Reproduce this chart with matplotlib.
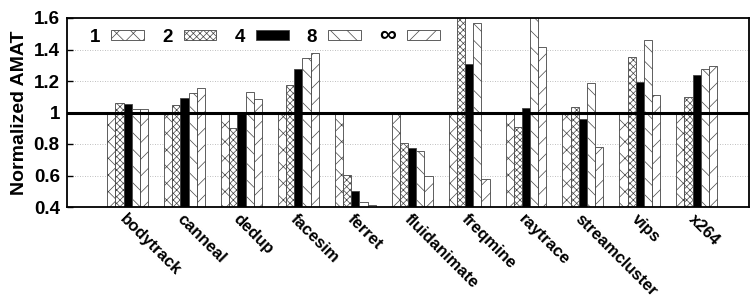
import numpy as np
import matplotlib
matplotlib.use("Agg")
import matplotlib.pyplot as plt

plt.rcParams['font.family'] = ['Liberation Sans', 'DejaVu Sans']
plt.rcParams['font.weight'] = 'bold'
plt.rcParams['hatch.linewidth'] = 0.5

## Data
benchmarks = ["bodytrack", "canneal", "dedup", "facesim", "ferret", "fluidanimate",
              "freqmine", "raytrace", "streamcluster", "vips", "x264"]
labels = ["1", "2", "4", "8", "\u221e"]
amat_1 = [1.0, 1.0, 1.0, 1.0, 1.0, 1.0, 1.0, 1.0, 1.0, 1.0, 1.0]
amat_2 = [1.058, 1.05, 0.90, 1.173, 0.603, 0.804, 1.65, 0.906, 1.033, 1.35, 1.097]
amat_4 = [1.052, 1.092, 1.0, 1.276, 0.50, 0.775, 1.308, 1.027, 0.959, 1.196, 1.238]
amat_8 = [1.02, 1.122, 1.128, 1.346, 0.432, 0.756, 1.57, 1.65, 1.185, 1.458, 1.274]
amat_inf = [1.02, 1.155, 1.086, 1.376, 0.41, 0.595, 0.58, 1.414, 0.781, 1.109, 1.293]

series = [amat_1, amat_2, amat_4, amat_8, amat_inf]
hatches = ["xx", "xxxxx", None, "\\\\", "//"]
faces = ["white", "white", "black", "white", "white"]

fig, ax = plt.subplots(figsize=(7.5, 3), dpi=100)
fig.subplots_adjust(left=0.089, right=0.998, top=0.94, bottom=0.31)

x = np.arange(len(benchmarks))
w = 0.144
for i, vals in enumerate(series):
    ax.bar(x + (i - 2) * w, vals, w, bottom=0, color=faces[i], edgecolor="#444444",
           hatch=hatches[i], linewidth=0.6, label=labels[i], zorder=2)

ax.axhline(1.0, color="black", linewidth=2.2, zorder=3)
for yv in [0.6, 0.8, 1.2, 1.4]:
    ax.axhline(yv, color="#aaaaaa", linewidth=0.6, linestyle=(0, (1, 2)), zorder=1)

ax.set_ylim(0.4, 1.6)
ax.set_xlim(-1.07, 10.91)
ax.set_yticks([0.4, 0.6, 0.8, 1.0, 1.2, 1.4, 1.6])
ax.set_yticklabels(["0.4", "0.6", "0.8", "1", "1.2", "1.4", "1.6"], fontsize=13.5, fontweight="bold")
ax.set_xticks(x)
ax.set_xticklabels(benchmarks, rotation=-45, ha="left", va="top", rotation_mode="anchor",
                   fontsize=12, fontweight="bold")
ax.tick_params(axis="x", length=0, pad=3)
ax.tick_params(axis="y", direction="in", length=4, width=1, pad=5)
ax.set_ylabel("Normalized AMAT", fontsize=14, fontweight="bold", labelpad=4)
for s in ax.spines.values():
    s.set_linewidth(1.3)

leg = ax.legend(loc="upper left", bbox_to_anchor=(0.02, 1.02), ncol=5, frameon=False,
                markerfirst=False, handlelength=1.75, handleheight=0.5, handletextpad=0.6,
                columnspacing=0.95, borderpad=0, prop={"size": 13.5, "weight": "bold"})
# infinity sign is drawn larger in the original
leg.get_texts()[-1].set_fontsize(17)

plt.savefig("out.png", dpi=100)
